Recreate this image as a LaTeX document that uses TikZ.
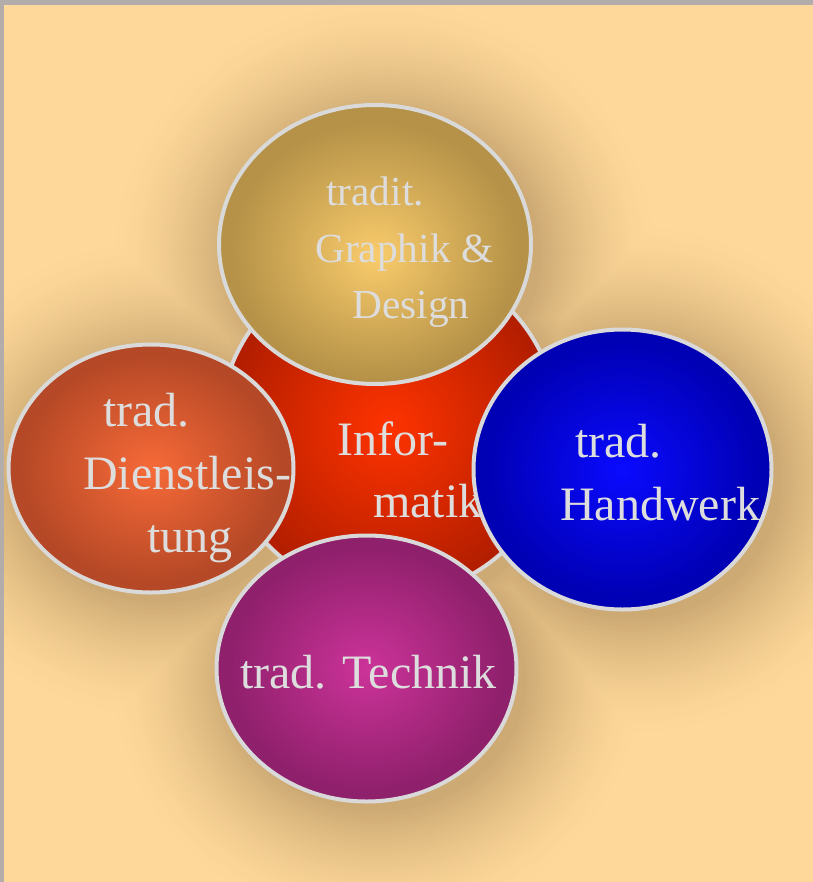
\documentclass[tikz,border=0pt]{standalone}
\usepackage{fontspec}
\setmainfont{Liberation Serif}
\usetikzlibrary{positioning}
\definecolor{framec}{RGB}{178,173,170}
\definecolor{bgc}{RGB}{254,216,154}
\definecolor{shadowc}{RGB}{160,128,80}
\definecolor{rimc}{RGB}{217,217,217}
\definecolor{txtc}{RGB}{221,221,221}
\definecolor{redin}{RGB}{255,51,0}
\definecolor{redout}{RGB}{179,30,0}
\definecolor{topin}{RGB}{249,203,107}
\definecolor{topout}{RGB}{181,146,72}
\definecolor{leftin}{RGB}{247,106,56}
\definecolor{leftout}{RGB}{181,72,38}
\definecolor{rightin}{RGB}{10,10,255}
\definecolor{rightout}{RGB}{0,0,180}
\definecolor{botin}{RGB}{204,51,153}
\definecolor{botout}{RGB}{143,32,108}
\pgfdeclareradialshading{redglow}{\pgfpoint{0bp}{0bp}}{color(0bp)=(redin); color(24bp)=(redout); color(50bp)=(redout)}
\pgfdeclareradialshading{topglow}{\pgfpoint{0bp}{-2bp}}{color(0bp)=(topin); color(23bp)=(topout); color(50bp)=(topout)}
\pgfdeclareradialshading{leftglow}{\pgfpoint{0bp}{0bp}}{color(0bp)=(leftin); color(23bp)=(leftout); color(50bp)=(leftout)}
\pgfdeclareradialshading{rightglow}{\pgfpoint{0bp}{0bp}}{color(0bp)=(rightin); color(23bp)=(rightout); color(50bp)=(rightout)}
\pgfdeclareradialshading{botglow}{\pgfpoint{0bp}{0bp}}{color(0bp)=(botin); color(23bp)=(botout); color(50bp)=(botout)}
\begin{document}
\begin{tikzpicture}[x=0.75pt,y=-0.75pt,
  bubble/.style={draw=rimc,line width=3pt},
  lbl/.style={text=txtc,inner sep=0pt,anchor=base west,font=\fontsize{36}{43}\selectfont},
  toplbl/.style={lbl,font=\fontsize{31}{37}\selectfont}]
\useasboundingbox (0,0) rectangle (813,882);
\fill[framec] (0,0) rectangle (813,882);
\fill[bgc] (4,5) rectangle (813,882);
\begin{scope}
\clip (4,5) rectangle (813,882);
\foreach \d in {120,116,...,0}{
  \pgfmathsetmacro\p{52*(1-\d/120)^1.6}
  \begin{scope}[shift={(10,10)},draw=shadowc!\p!bgc,fill=shadowc!\p!bgc,line width=1.5pt*\d]
  \filldraw (389,427) circle [radius=169];
  \filldraw (375,244.5) ellipse [x radius=156, y radius=139.5];
  \filldraw (151,468.5) ellipse [x radius=142.5, y radius=124];
  \filldraw (622.5,469.5) ellipse [x radius=149, y radius=140];
  \filldraw (366.5,668.5) ellipse [x radius=150, y radius=133];
  \end{scope}
}
\end{scope}
\draw[bubble,shading=redglow] (389,427) circle [radius=169];
\node[lbl] (infor) at (337,455) {Infor-};
\node[lbl] (matik) at (373,517) {matik};
\draw[bubble,shading=topglow] (375,244.5) ellipse [x radius=156, y radius=139.5];
\node[toplbl] (tradit) at (326,205) {tradit.};
\node[toplbl] (graphik) at (315,262) {Graphik \&};
\node[toplbl] (design) at (352,318) {Design};
\draw[bubble,shading=leftglow] (151,468.5) ellipse [x radius=142.5, y radius=124];
\node[lbl] (tradl) at (103,426) {trad.};
\node[lbl] (dienst) at (83,489) {Dienstleis-};
\node[lbl] (tung) at (147,552) {tung};
\draw[bubble,shading=botglow] (366.5,668.5) ellipse [x radius=150, y radius=133];
\node[lbl] (technik) at (240,688) {trad. Technik};
\draw[bubble,shading=rightglow] (622.5,469.5) ellipse [x radius=149, y radius=140];
\node[lbl] (tradr) at (575,457) {trad.};
\node[lbl] (handwerk) at (560,520) {Handwerk};
\end{tikzpicture}
\end{document}
